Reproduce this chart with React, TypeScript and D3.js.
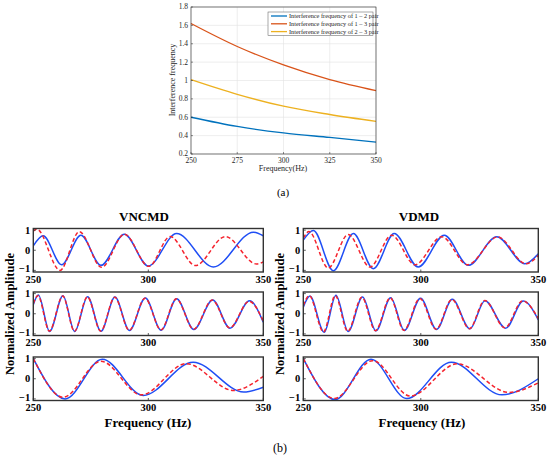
import * as d3 from "d3";

// (a) interference frequency vs frequency
const sweepHz = [250, 275, 300, 325, 350];
const pair12 = [0.6, 0.5, 0.43, 0.38, 0.33];
const pair13 = [1.62, 1.37, 1.17, 1.01, 0.89];
const pair23 = [1.01, 0.85, 0.72, 0.63, 0.555];
const topYTicks = [0.2, 0.4, 0.6, 0.8, 1, 1.2, 1.4, 1.6, 1.8];
const legendLabels = [
  "Interference frequency of 1 – 2 pair",
  "Interference frequency of 1 – 3 pair",
  "Interference frequency of 2 – 3 pair",
];

// (b) extracted modes, [Hz, amplitude] read at extrema
type Pt = [number, number];
const vncmd1Blue: Pt[] = [[250, 0.22], [254.3, 0.72], [262.3, -0.72], [270.7, 0.75], [279.4, -0.75], [289.6, 0.8], [300, -0.78], [312.3, 0.83], [328.3, -0.83], [345.7, 0.9], [350, 0.72]];
const vncmd1Red: Pt[] = [[250, 0.95], [251.5, 1.05], [261.6, -1.0], [270, 0.92], [279.7, -0.85], [289.6, 0.8], [300.2, -0.8], [309.5, 0.68], [320.5, -0.76], [333.5, 0.68], [347, -0.68], [350, -0.58]];
const vncmd2Blue: Pt[] = [[250, 0.45], [252.2, 0.93], [257.1, -0.88], [262.9, 0.9], [268, -0.88], [273.6, 0.85], [279.4, -0.87], [285.5, 0.83], [291.8, -0.83], [298.7, 0.78], [305.6, -0.82], [312.3, 0.75], [319.8, -0.78], [328, 0.68], [335.5, -0.72], [344, 0.64], [350, -0.42]];
const vncmd2Red: Pt[] = [[250, 0.5], [252, 0.9], [257, -0.86], [262.8, 0.88], [267.9, -0.87], [273.5, 0.84], [279.3, -0.86], [285.4, 0.82], [291.7, -0.82], [298.6, 0.77], [305.5, -0.8], [312.2, 0.74], [319.7, -0.77], [327.8, 0.68], [335.4, -0.7], [343.8, 0.62], [350, -0.36]];
const vncmd3Blue: Pt[] = [[250, 1.0], [263.8, -1.0], [280, 0.97], [297.8, -0.83], [319.5, 0.82], [341.5, -0.66], [350, -0.42]];
const vncmd3Red: Pt[] = [[250, 1.0], [263, -0.92], [279.4, 0.87], [297, -0.8], [316.5, 0.75], [337, -0.58], [350, 0.12]];
const vdmd1Blue: Pt[] = [[250, 0.5], [254.3, 0.98], [262.8, -1.02], [271.3, 0.83], [279.8, -0.92], [288.7, 0.83], [298.9, -0.83], [310, 0.75], [320.2, -0.75], [332.3, 0.67], [344.3, -0.67], [350, -0.17]];
const vdmd1Red: Pt[] = [[250, 0.6], [252.4, 0.93], [260.6, -0.88], [269.1, 0.78], [278.4, -0.83], [287.6, 0.75], [297.5, -0.72], [308.9, 0.67], [319.9, -0.72], [332.7, 0.66], [344.8, -0.67], [350, -0.25]];
const vdmd2Blue: Pt[] = [[250, 0.33], [252.8, 0.88], [258.9, -0.92], [263.9, 0.92], [269.1, -0.88], [275.2, 0.83], [280.9, -0.85], [287.2, 0.8], [293, -0.83], [299.9, 0.77], [306.7, -0.78], [313.4, 0.72], [320.9, -0.75], [327.3, 0.65], [336.1, -0.72], [343.6, 0.63], [350, -0.3]];
const vdmd2Red: Pt[] = [[250, 0.4], [252.5, 0.9], [258.6, -0.9], [263.6, 0.9], [268.9, -0.87], [274.9, 0.82], [280.7, -0.84], [287, 0.79], [292.8, -0.82], [299.6, 0.76], [306.5, -0.77], [313.2, 0.71], [320.7, -0.74], [327.2, 0.66], [335.8, -0.7], [343.3, 0.64], [350, -0.24]];
const vdmd3Blue: Pt[] = [[250, 1.0], [263.5, -1.03], [278.8, 0.97], [294, -0.98], [313, 0.82], [334.5, -0.8], [350, 0.0]];
const vdmd3Red: Pt[] = [[250, 1.0], [263.2, -0.98], [279.5, 0.9], [295.5, -0.86], [315.5, 0.74], [337.5, -0.68], [350, -0.2]];

const modeTicks = [250, 300, 350];
const ampTicks = [1, 0, -1];

const serif = "'Liberation Serif', 'Times New Roman', serif";
const BLUE = "#1f4ef5";
const RED = "#f5222d";

function TopChart() {
  const x = d3.scaleLinear().domain([250, 350]).range([191, 376]);
  const y = d3.scaleLinear().domain([0.2, 1.8]).range([154, 7]);
  const line = d3
    .line<number>()
    .x((_, i) => x(sweepHz[i]))
    .y((d) => y(d))
    .curve(d3.curveMonotoneX);
  const series = [
    { vals: pair12, color: "#0072BD" },
    { vals: pair13, color: "#D95319" },
    { vals: pair23, color: "#EDB120" },
  ];
  return (
    <g fontFamily={serif} fill="#262626">
      <rect x={191} y={7} width={185} height={147} fill="#fff" />
      {sweepHz.map((t) => (
        <line key={"gx" + t} x1={x(t)} x2={x(t)} y1={7} y2={154} stroke="#e3e3e3" strokeWidth={0.6} />
      ))}
      {topYTicks.map((t) => (
        <line key={"gy" + t} x1={191} x2={376} y1={y(t)} y2={y(t)} stroke="#e3e3e3" strokeWidth={0.6} />
      ))}
      {series.map((s) => (
        <path key={s.color} d={line(s.vals) ?? ""} fill="none" stroke={s.color} strokeWidth={1.3} />
      ))}
      <rect x={191} y={7} width={185} height={147} fill="none" stroke="#262626" strokeWidth={0.6} />
      {sweepHz.map((t) => (
        <g key={"tx" + t}>
          <line x1={x(t)} x2={x(t)} y1={154} y2={152} stroke="#262626" strokeWidth={0.5} />
          <text x={x(t)} y={163} fontSize={7.5} textAnchor="middle">{t}</text>
        </g>
      ))}
      {topYTicks.map((t) => (
        <g key={"ty" + t}>
          <line x1={191} x2={193} y1={y(t)} y2={y(t)} stroke="#262626" strokeWidth={0.5} />
          <text x={188} y={y(t)} dy="0.33em" fontSize={7.5} textAnchor="end">{String(t)}</text>
        </g>
      ))}
      <text x={283} y={171} fontSize={8} textAnchor="middle">Frequency(Hz)</text>
      <text transform={`translate(${175},${80}) rotate(-90)`} fontSize={8} textAnchor="middle">
        Interference frequency
      </text>
      <rect x={268} y={12} width={105} height={23.5} fill="#fff" stroke="#555" strokeWidth={0.5} />
      {legendLabels.map((l, i) => (
        <g key={l}>
          <line x1={271} x2={287} y1={16 + i * 7.8} y2={16 + i * 7.8} stroke={series[i].color} strokeWidth={1.3} />
          <text x={289} y={16 + i * 7.8} dy="0.33em" fontSize={6.3}>{l}</text>
        </g>
      ))}
      <text x={283} y={196} fontSize={11} textAnchor="middle" fill="#000">(a)</text>
    </g>
  );
}

function ModePanel(props: { x0: number; x1: number; top: number; blue: Pt[]; red: Pt[]; id: string }) {
  const { x0, x1, top, blue, red, id } = props;
  const h = 43.5;
  const x = d3.scaleLinear().domain([250, 350]).range([x0, x1]);
  const y = d3.scaleLinear().domain([-1.08, 1.08]).range([top + h, top]);
  const line = d3
    .line<Pt>()
    .x((d) => x(d[0]))
    .y((d) => y(d[1]))
    .curve(d3.curveMonotoneX);
  return (
    <g>
      <clipPath id={id}>
        <rect x={x0} y={top} width={x1 - x0} height={h} />
      </clipPath>
      <rect x={x0} y={top} width={x1 - x0} height={h} fill="#fff" />
      <g clipPath={`url(#${id})`}>
        <path d={line(blue) ?? ""} fill="none" stroke={BLUE} strokeWidth={1.5} />
        <path d={line(red) ?? ""} fill="none" stroke={RED} strokeWidth={1.5} strokeDasharray="4,2.5" />
      </g>
      <rect x={x0} y={top} width={x1 - x0} height={h} fill="none" stroke="#333" strokeWidth={1.4} />
      {modeTicks.map((t) => (
        <g key={t}>
          <line x1={x(t)} x2={x(t)} y1={top + h} y2={top + h - 2.5} stroke="#333" strokeWidth={0.8} />
          <text x={x(t)} y={top + h + 10.5} fontSize={10.5} fontWeight="bold" textAnchor="middle">{t}</text>
        </g>
      ))}
      {ampTicks.map((t) => (
        <g key={t}>
          <line x1={x0} x2={x0 + 2.5} y1={y(t)} y2={y(t)} stroke="#333" strokeWidth={0.8} />
          <text x={x0 - 3} y={y(t)} dy={t < 0 ? "0.2em" : "0.35em"} fontSize={10.5} fontWeight="bold" textAnchor="end">
            {t < 0 ? "−" + Math.abs(t) : String(t)}
          </text>
        </g>
      ))}
    </g>
  );
}

const panelTops = [228.5, 292, 357];

export default function App() {
  const left = [
    [vncmd1Blue, vncmd1Red],
    [vncmd2Blue, vncmd2Red],
    [vncmd3Blue, vncmd3Red],
  ];
  const right = [
    [vdmd1Blue, vdmd1Red],
    [vdmd2Blue, vdmd2Red],
    [vdmd3Blue, vdmd3Red],
  ];
  return (
    <svg
      width={550}
      height={459}
      style={{ position: "absolute", left: 0, top: 0, background: "#fff" }}
    >
      <TopChart />
      <g fontFamily={serif} fill="#000">
        {left.map((s, i) => (
          <ModePanel key={"l" + i} id={"cl" + i} x0={33.3} x1={263.3} top={panelTops[i]} blue={s[0]} red={s[1]} />
        ))}
        {right.map((s, i) => (
          <ModePanel key={"r" + i} id={"cr" + i} x0={303.3} x1={538.3} top={panelTops[i]} blue={s[0]} red={s[1]} />
        ))}
        <text x={144} y={221} fontSize={13} fontWeight="bold" textAnchor="middle">VNCMD</text>
        <text x={419} y={221} fontSize={13} fontWeight="bold" textAnchor="middle">VDMD</text>
        <text transform="translate(14,314) rotate(-90)" fontSize={12.5} fontWeight="bold" textAnchor="middle">
          Normalized Amplitude
        </text>
        <text transform="translate(284,314) rotate(-90)" fontSize={12.5} fontWeight="bold" textAnchor="middle">
          Normalized Amplitude
        </text>
        <text x={148} y={427} fontSize={13} fontWeight="bold" textAnchor="middle">Frequency (Hz)</text>
        <text x={422} y={427} fontSize={13} fontWeight="bold" textAnchor="middle">Frequency (Hz)</text>
        <text x={280} y={452} fontSize={12} textAnchor="middle">(b)</text>
      </g>
    </svg>
  );
}
